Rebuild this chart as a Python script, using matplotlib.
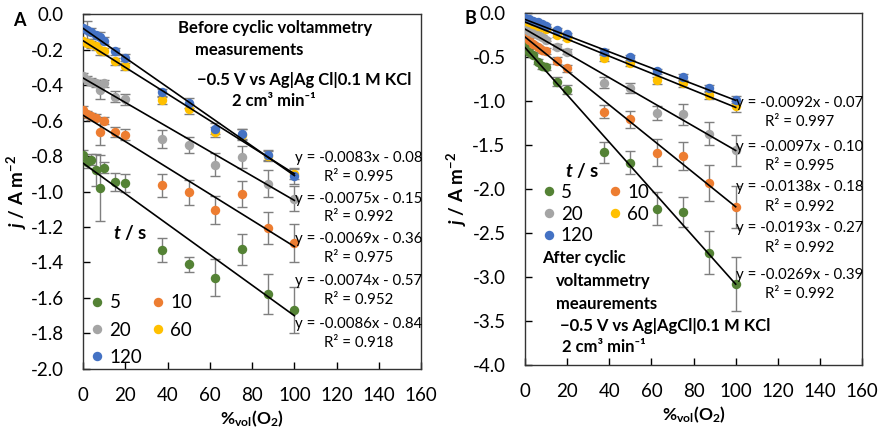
import numpy as np
import matplotlib.pyplot as plt
from matplotlib.ticker import FormatStrFormatter

plt.rcParams['font.family'] = ['Lato', 'DejaVu Sans']
plt.rcParams['axes.unicode_minus'] = False
plt.rcParams['mathtext.fontset'] = 'custom'
plt.rcParams['mathtext.rm'] = 'Lato'
plt.rcParams['mathtext.it'] = 'Lato:italic'
plt.rcParams['mathtext.bf'] = 'Lato:bold'
plt.rcParams['mathtext.bfit'] = 'Lato:italic:bold'

# концентрация кислорода, об. %
x = np.array([0, 2, 4, 6, 8, 10, 15, 20, 37.5, 50, 62.5, 75, 87.5, 100])
times = ['5', '10', '20', '60', '120']
colors = ['#548235', '#ED7D31', '#A5A5A5', '#FFC000', '#4472C4']

# A: до циклической вольтамперометрии
jA = [
    [-0.795, -0.835, -0.82, -0.88, -0.98, -0.865, -0.945, -0.95, -1.33, -1.41, -1.485, -1.325, -1.58, -1.67],
    [-0.54, -0.565, -0.575, -0.585, -0.665, -0.60, -0.665, -0.68, -0.965, -1.005, -1.105, -1.015, -1.205, -1.29],
    [-0.35, -0.37, -0.38, -0.39, -0.43, -0.39, -0.465, -0.48, -0.705, -0.74, -0.85, -0.805, -0.955, -1.04],
    [-0.15, -0.16, -0.17, -0.18, -0.20, -0.21, -0.265, -0.295, -0.485, -0.535, -0.665, -0.68, -0.80, -0.90],
    [-0.08, -0.09, -0.10, -0.12, -0.13, -0.15, -0.21, -0.245, -0.44, -0.50, -0.645, -0.675, -0.795, -0.915],
]
errA = [
    [0.03, 0.03, 0.03, 0.09, 0.185, 0.03, 0.05, 0.05, 0.07, 0.042, 0.105, 0.087, 0.113, 0.13],
    [0.02, 0.02, 0.02, 0.02, 0.07, 0.02, 0.03, 0.03, 0.065, 0.07, 0.08, 0.075, 0.09, 0.108],
    [0.02, 0.02, 0.02, 0.02, 0.05, 0.02, 0.03, 0.03, 0.05, 0.045, 0.065, 0.06, 0.075, 0.07],
    [0.01, 0.02, 0.02, 0.02, 0.03, 0.02, 0.02, 0.02, 0.02, 0.03, 0.03, 0.03, 0.03, 0.03],
    [0.01, 0.05, 0.02, 0.02, 0.03, 0.02, 0.02, 0.02, 0.02, 0.03, 0.03, 0.03, 0.03, 0.04],
]
# линейные аппроксимации: (наклон, свободный член, R^2)
fitA = [(-0.0086, -0.84, 0.918), (-0.0074, -0.57, 0.952), (-0.0069, -0.36, 0.975),
        (-0.0075, -0.15, 0.992), (-0.0083, -0.08, 0.995)]

# B: после циклической вольтамперометрии
jB = [
    [-0.36, -0.44, -0.47, -0.55, -0.60, -0.61, -0.78, -0.87, -1.58, -1.70, -2.22, -2.26, -2.72, -3.08],
    [-0.25, -0.30, -0.35, -0.38, -0.42, -0.43, -0.54, -0.625, -1.12, -1.205, -1.585, -1.62, -1.93, -2.20],
    [-0.18, -0.20, -0.22, -0.25, -0.27, -0.30, -0.38, -0.435, -0.79, -0.85, -1.135, -1.15, -1.37, -1.56],
    [-0.085, -0.10, -0.12, -0.14, -0.16, -0.18, -0.245, -0.28, -0.51, -0.57, -0.76, -0.795, -0.93, -1.06],
    [-0.05, -0.07, -0.09, -0.10, -0.12, -0.14, -0.19, -0.24, -0.435, -0.50, -0.66, -0.73, -0.85, -0.985],
]
errB = [
    [0.03, 0.03, 0.03, 0.03, 0.03, 0.03, 0.05, 0.05, 0.12, 0.13, 0.19, 0.17, 0.25, 0.31],
    [0.02, 0.02, 0.02, 0.02, 0.03, 0.03, 0.04, 0.04, 0.075, 0.095, 0.15, 0.16, 0.20, 0.24],
    [0.02, 0.02, 0.02, 0.02, 0.02, 0.02, 0.03, 0.03, 0.065, 0.06, 0.08, 0.12, 0.13, 0.18],
    [0.01, 0.01, 0.01, 0.01, 0.02, 0.02, 0.02, 0.02, 0.03, 0.03, 0.04, 0.04, 0.05, 0.057],
    [0.01, 0.01, 0.01, 0.01, 0.02, 0.02, 0.02, 0.02, 0.03, 0.03, 0.03, 0.04, 0.04, 0.04],
]
fitB = [(-0.0269, -0.39, 0.992), (-0.0193, -0.27, 0.992), (-0.0138, -0.18, 0.992),
        (-0.0097, -0.10, 0.995), (-0.0092, -0.07, 0.997)]

fig = plt.figure(figsize=(8.83, 4.28), dpi=100)
axA = fig.add_axes([0.094, 0.138, 0.383, 0.829])
axB = fig.add_axes([0.5946, 0.147, 0.3817, 0.822])


def draw_panel(ax, j, err, fits):
    handles = []
    for k in range(len(times)):
        ax.errorbar(x, j[k], yerr=err[k], fmt='none', ecolor='#7F7F7F',
                    elinewidth=1, capsize=3.5, capthick=1, zorder=2)
        h, = ax.plot(x, j[k], 'o', color=colors[k], ms=6.8, mec='none', zorder=3)
        handles.append(h)
    xf = np.array([0, 100])
    for a, b, r2 in fits:
        ax.plot(xf, a * xf + b, color='black', lw=1.2, zorder=4)
    ax.set_xlim(0, 160)
    ax.set_xticks(np.arange(0, 161, 20))
    ax.yaxis.set_major_formatter(FormatStrFormatter('%.1f'))
    ax.tick_params(direction='in', length=5, width=1, labelsize=13.5, pad=14)
    ax.tick_params(axis='x', pad=13)
    for s in ax.spines.values():
        s.set_linewidth(1)
        s.set_color('#333333')
    ax.set_xlabel(r'$\mathbf{\%_{vol}(O_2)}$', fontsize=12.5, va='center')
    ax.set_ylabel(r'$\mathbfit{j}$ / A m$^{\mathbf{-2}}$', fontsize=13.5, fontweight='bold')
    return handles


hA = draw_panel(axA, jA, errA, fitA)
axA.set_ylim(-2.0, 0.0)
axA.set_yticks(np.round(np.arange(-2.0, 0.01, 0.2), 1) + 0.0)
axA.xaxis.set_label_coords(0.5, -0.14)
axA.yaxis.set_label_coords(-0.16, 0.5)

hB = draw_panel(axB, jB, errB, fitB)
axB.set_ylim(-4.0, 0.0)
axB.set_yticks(np.round(np.arange(-4.0, 0.01, 0.5), 1) + 0.0)
axB.xaxis.set_label_coords(0.5, -0.14)
axB.yaxis.set_label_coords(-0.165, 0.5)

# уравнения прямых
eq_yA = [(-1.746, -1.855), (-1.504, -1.611), (-1.268, -1.373), (-1.042, -1.142), (-0.811, -0.918)]
eq_yB = [(-2.974, -3.193), (-2.443, -2.670), (-1.970, -2.198), (-1.516, -1.732), (-1.023, -1.232)]
for ax, fits, eq_y in [(axA, fitA, eq_yA), (axB, fitB, eq_yB)]:
    for (a, b, r2), (ye, yr) in zip(fits, eq_y):
        ax.text(130.3, ye, 'y = %.4fx - %.2f' % (a, abs(b)), ha='center', va='center', fontsize=10.8)
        ax.text(130.3, yr, 'R² = %.3f' % r2, ha='center', va='center', fontsize=10.8)

# легенды
order = [0, 2, 4, 1, 3]
axA.text(0.14, 0.385, r'$\mathbfit{t}$ / s', transform=axA.transAxes, ha='center', va='center',
         fontsize=13.5, fontweight='bold')
axA.legend([hA[i] for i in order], [times[i] for i in order], ncol=2, loc='upper left',
           bbox_to_anchor=(0.026, 0.21), frameon=False, fontsize=13.5, handlelength=0.6,
           handletextpad=0.35, columnspacing=0.55, labelspacing=0.55, borderpad=0, borderaxespad=0)
axB.text(0.169, 0.553, r'$\mathbfit{t}$ / s', transform=axB.transAxes, ha='center', va='center',
         fontsize=13.5, fontweight='bold')
axB.legend([hB[i] for i in order], [times[i] for i in order], ncol=2, loc='upper left',
           bbox_to_anchor=(0.053, 0.515), frameon=False, fontsize=13.5, handlelength=0.6,
           handletextpad=0.35, columnspacing=0.85, labelspacing=0.25, borderpad=0, borderaxespad=0)

# подписи условий эксперимента
kw = dict(fontsize=12, fontweight='bold', va='center')
axA.text(90.8, -0.079, 'Before cyclic voltammetry', ha='center', **kw)
axA.text(78.7, -0.203, 'measurements', ha='center', **kw)
axA.text(104.5, -0.372, '−0.5 V vs Ag|Ag Cl|0.1 M KCl', ha='center', **kw)
axA.text(90.5, -0.49, '2 cm³ min⁻¹', ha='center', **kw)

axB.text(7.9, -2.784, 'After cyclic', ha='left', **kw)
axB.text(14.5, -3.042, 'voltammetry', ha='left', **kw)
axB.text(14.5, -3.303, 'meaurements', ha='left', **kw)
axB.text(16.5, -3.561, '−0.5 V vs Ag|AgCl|0.1 M KCl', ha='left', **kw)
axB.text(17.4, -3.789, '2 cm³ min⁻¹', ha='left', **kw)

fig.text(19 / 883, 1 - 21 / 428, 'A', fontsize=13, fontweight='bold', ha='center', va='center')
fig.text(470 / 883, 1 - 19 / 428, 'B', fontsize=13, fontweight='bold', ha='center', va='center')

fig.savefig('out.png', dpi=100)
